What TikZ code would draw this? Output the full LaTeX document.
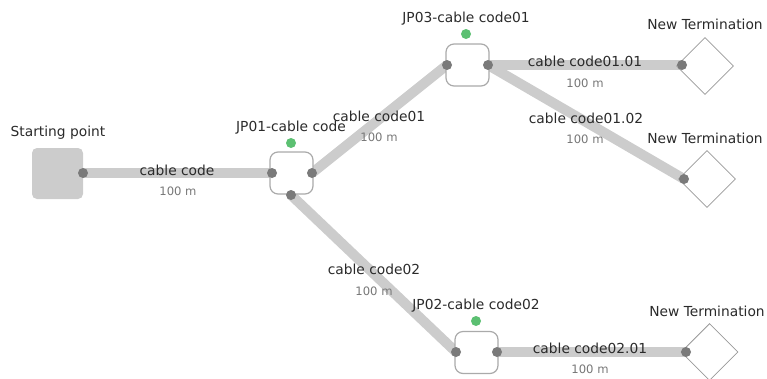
\documentclass[tikz,border=0pt]{standalone}
\usepackage{fontspec}
\setmainfont{DejaVu Sans}
\usetikzlibrary{shapes.geometric}
\definecolor{cablec}{HTML}{CCCCCC}
\definecolor{portc}{HTML}{7A7A7A}
\definecolor{boxc}{HTML}{AAAAAA}
\definecolor{greenc}{HTML}{5CC072}
\definecolor{lenc}{HTML}{777777}
\definecolor{txtc}{HTML}{2A2A2A}
\begin{document}
\begin{tikzpicture}[x=1pt,y=-1pt,
  cable/.style={draw=cablec,line width=10pt},
  port/.style={circle,fill=portc,minimum size=10pt,inner sep=0pt},
  jpbox/.style={draw=boxc,line width=1.2pt,fill=white,rounded corners=8pt,minimum width=43pt,minimum height=42pt,inner sep=0pt},
  startbox/.style={fill=cablec,rounded corners=5pt,minimum width=51pt,minimum height=51pt,inner sep=0pt},
  term/.style={draw=boxc!90!black,line width=0.8pt,fill=white,diamond,minimum size=57pt,inner sep=0pt,aspect=1},
  led/.style={circle,fill=greenc,minimum size=10pt,inner sep=0pt},
  lbl/.style={font=\fontsize{13.8}{16}\selectfont,text=txtc,inner sep=0pt},
  len/.style={font=\fontsize{11.6}{13}\selectfont,text=lenc,inner sep=0pt}
]
\useasboundingbox (0,0) rectangle (767,378);
% coordinates of ports
\coordinate (p0) at (83,173);
\coordinate (p1l) at (272,173);
\coordinate (p1r) at (312,173);
\coordinate (p1b) at (291,195);
\coordinate (p3l) at (447,65);
\coordinate (p3r) at (488,65);
\coordinate (p2l) at (456,352);
\coordinate (p2r) at (497,352);
\coordinate (pt1) at (682,65);
\coordinate (pt2) at (684,179);
\coordinate (pt3) at (686,352);
% cables
\draw[cable] (p0) -- (p1l);
\draw[cable] (p1r) -- (p3l);
\draw[cable] (p1b) -- (p2l);
\draw[cable] (p3r) -- (pt1);
\draw[cable] (p3r) -- (pt2);
\draw[cable] (p2r) -- (pt3);
% nodes
\node[startbox] (sp) at (57.5,173.5) {};
\node[jpbox] (jp1) at (291.5,173) {};
\node[jpbox] (jp3) at (467.5,65) {};
\node[jpbox] (jp2) at (476.5,352.5) {};
\node[term] (t1) at (705,66) {};
\node[term] (t2) at (707,179) {};
\node[term] (t3) at (709.5,352) {};
\foreach \p in {p0,p1l,p1r,p1b,p3l,p3r,p2l,p2r,pt1,pt2,pt3} \node[port] (n\p) at (\p) {};
% leds and labels
\node[led] (g1) at (291,143) {};
\node[led] (g3) at (466,34) {};
\node[led] (g2) at (476,321) {};
\node[lbl] (splbl) at (58,133) {Starting point};
\node[lbl] (l1) at (291,128) {JP01-cable code};
\node[lbl] (l3) at (466,19) {JP03-cable code01};
\node[lbl] (l2) at (476,306) {JP02-cable code02};
\node[lbl] (lt1) at (705,24) {New Termination};
\node[lbl] (lt2) at (705,138) {New Termination};
\node[lbl] (lt3) at (707,311) {New Termination};
% cable labels
\node[lbl] (c0) at (177,170) {cable code};
\node[len] (c0l) at (178,191) {100 m};
\node[lbl] (c1) at (379,116) {cable code01};
\node[len] (c1l) at (379,137) {100 m};
\node[lbl] (c11) at (585,61) {cable code01.01};
\node[len] (c11l) at (585,83) {100 m};
\node[lbl] (c12) at (586,118) {cable code01.02};
\node[len] (c12l) at (585,139) {100 m};
\node[lbl] (c2) at (374,269) {cable code02};
\node[len] (c2l) at (374,291) {100 m};
\node[lbl] (c21) at (590,348) {cable code02.01};
\node[len] (c21l) at (590,369) {100 m};
\end{tikzpicture}
\end{document}
